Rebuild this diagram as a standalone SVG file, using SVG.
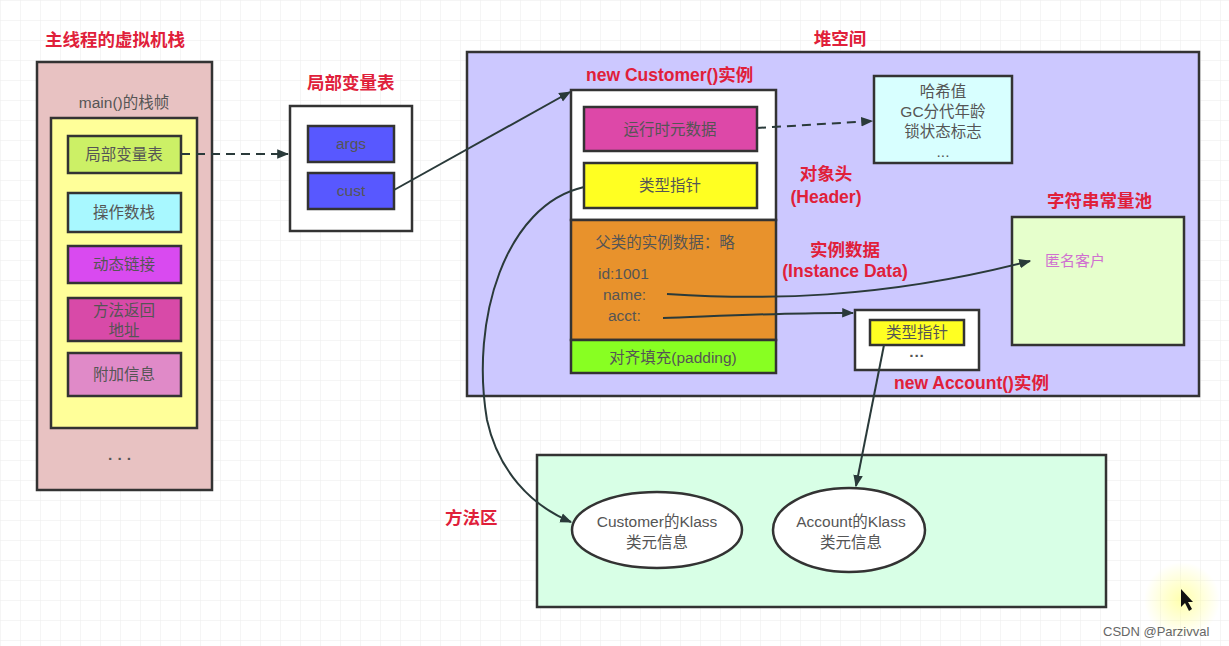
<svg xmlns="http://www.w3.org/2000/svg" width="1229" height="646" viewBox="0 0 1229 646">
<defs>
<pattern id="grid" width="20" height="20" patternUnits="userSpaceOnUse">
<path d="M20 0 L0 0 0 20" fill="none" stroke="#ececec" stroke-width="1"/>
</pattern>
<marker id="ahb" viewBox="0 0 10 10" refX="9" refY="5" markerWidth="12" markerHeight="12" orient="auto" markerUnits="userSpaceOnUse">
<path d="M0,1 L10,5 L0,9 Z" fill="#2a3a3a"/>
</marker>
<radialGradient id="glow">
<stop offset="0" stop-color="#ffff99" stop-opacity="0.8"/>
<stop offset="1" stop-color="#ffff99" stop-opacity="0"/>
</radialGradient>
</defs>
<style>
text{font-family:"Liberation Sans","Noto Sans CJK SC",sans-serif;}
.t{font-size:17.5px;font-weight:bold;fill:#e0203a;}
.l{font-size:15.5px;fill:#555;text-anchor:middle;}
.s{font-size:15.5px;fill:#555;text-anchor:start;}
.box{stroke:#333;stroke-width:2.5;}
.conn{fill:none;stroke:#2a3a3a;stroke-width:2;}
</style>
<rect width="1229" height="646" fill="#fff"/>
<rect width="1229" height="646" fill="url(#grid)"/>

<g id="vmstack">
<text class="t" x="45" y="46">主线程的虚拟机栈</text>
<rect class="box" x="37" y="62" width="175" height="428" fill="#e8c2c2"/>
<text class="l" x="124" y="108">main()的栈帧</text>
<rect class="box" x="51" y="118" width="146" height="310" fill="#ffff99"/>
<text class="l" x="120" y="464" font-weight="bold">·  ·  ·</text>
</g>
<g id="lvt"><rect class="box" x="68" y="136" width="113" height="37" fill="#ccf066"/><text class="l" x="124" y="160">局部变量表</text></g>
<g id="opstack"><rect class="box" x="68" y="193" width="113" height="39" fill="#a8f8ff"/><text class="l" x="124" y="218">操作数栈</text></g>
<g id="dynlink"><rect class="box" x="68" y="246" width="113" height="37" fill="#d94af0"/><text class="l" x="124" y="270">动态链接</text></g>
<g id="retaddr"><rect class="box" x="68" y="298" width="113" height="43" fill="#d84aa8"/><text class="l" x="124" y="316">方法返回</text><text class="l" x="124" y="336">地址</text></g>
<g id="extra"><rect class="box" x="68" y="353" width="113" height="43" fill="#e08ac8"/><text class="l" x="124" y="380">附加信息</text></g>

<g id="localtable">
<text class="t" x="307" y="89">局部变量表</text>
<rect class="box" x="290" y="106" width="122" height="125" fill="#fff"/>
<rect class="box" x="308" y="126" width="86" height="36" fill="#5858ff"/><text class="l" x="351" y="149">args</text>
<rect class="box" x="308" y="173" width="86" height="36" fill="#5858ff"/><text class="l" x="351" y="196">cust</text>
</g>

<g id="heap">
<rect class="box" x="467" y="52" width="732" height="344" fill="#ccc8ff"/>
<text class="t" x="840" y="45" text-anchor="middle">堆空间</text>
</g>

<g id="customer">
<text class="t" x="586" y="81">new Customer()实例</text>
<rect class="box" x="571" y="90" width="205" height="130" fill="#fff"/>
<rect class="box" x="571" y="220" width="205" height="120" fill="#e8922c"/>
<rect class="box" x="571" y="340" width="205" height="33" fill="#88ff22"/>
<rect class="box" x="584" y="107" width="173" height="44" fill="#dd48a8"/><text class="l" x="670" y="135">运行时元数据</text>
<rect class="box" x="584" y="163" width="173" height="45" fill="#ffff22"/><text class="l" x="670" y="191">类型指针</text>
<text class="l" x="665" y="248">父类的实例数据：略</text>
<text class="s" x="598" y="279">id:1001</text>
<text class="s" x="603" y="300">name:</text>
<text class="s" x="608" y="321">acct:</text>
<text class="l" x="673" y="363">对齐填充(padding)</text>
</g>

<g id="header-labels">
<text class="t" x="826" y="180" text-anchor="middle">对象头</text>
<text class="t" x="826" y="203" text-anchor="middle">(Header)</text>
<text class="t" x="845" y="256" text-anchor="middle">实例数据</text>
<text class="t" x="845" y="277" text-anchor="middle">(Instance Data)</text>
</g>

<g id="markword">
<rect class="box" x="874" y="76" width="138" height="87" fill="#d8ffff"/>
<text class="l" x="943" y="97">哈希值</text>
<text class="l" x="943" y="117">GC分代年龄</text>
<text class="l" x="943" y="137">锁状态标志</text>
<text class="l" x="943" y="157" font-size="11">...</text>
</g>

<g id="stringpool">
<text class="t" x="1047" y="207">字符串常量池</text>
<rect class="box" x="1012" y="217" width="172" height="128" fill="#e6ffcc"/>
<text x="1045" y="266" font-size="15" fill="#d070d0">匿名客户</text>
</g>

<g id="account">
<rect class="box" x="855" y="310" width="124" height="60" fill="#fff"/>
<rect class="box" x="870" y="320" width="94" height="25" fill="#ffff22"/><text class="l" x="917" y="338">类型指针</text>
<text class="l" x="917" y="361" font-weight="bold">···</text>
<text class="t" x="894" y="389">new Account()实例</text>
</g>

<g id="methodarea">
<text class="t" x="445" y="524">方法区</text>
<rect class="box" x="537" y="455" width="569" height="152" fill="#d8ffe6"/>
</g>
<g id="customerklass">
<ellipse class="box" cx="657" cy="530" rx="85" ry="38" fill="#fff"/>
<text class="l" x="657" y="527">Customer的Klass</text>
<text class="l" x="657" y="548">类元信息</text>
</g>
<g id="accountklass">
<ellipse class="box" cx="849" cy="530" rx="76" ry="42" fill="#fff"/>
<text class="l" x="851" y="527">Account的Klass</text>
<text class="l" x="851" y="548">类元信息</text>
</g>

<g id="connectors">
<path class="conn" d="M181,154 L288,154" stroke-dasharray="9,6" marker-end="url(#ahb)"/>
<path class="conn" d="M394,190 L570,92" marker-end="url(#ahb)"/>
<path class="conn" d="M757,128 L872,121" stroke-dasharray="9,6" marker-end="url(#ahb)"/>
<path class="conn" d="M667,294 C760,300 880,300 1030,261" marker-end="url(#ahb)"/>
<path class="conn" d="M663,318 C720,316 800,312 853,313" marker-end="url(#ahb)"/>
<path class="conn" d="M584,187 C505,205 470,320 487,420 C498,470 530,505 571,522" marker-end="url(#ahb)"/>
<path class="conn" d="M884,345 L856,486" marker-end="url(#ahb)"/>
</g>

<circle cx="1182" cy="600" r="38" fill="url(#glow)"/>
<path d="M1181,589 L1181,607 L1185,603 L1189,611 L1192,609 L1188,602 L1193,602 Z" fill="#111"/>
<text x="1103" y="636" font-size="13" fill="#666">CSDN @Parzivval</text>
</svg>
